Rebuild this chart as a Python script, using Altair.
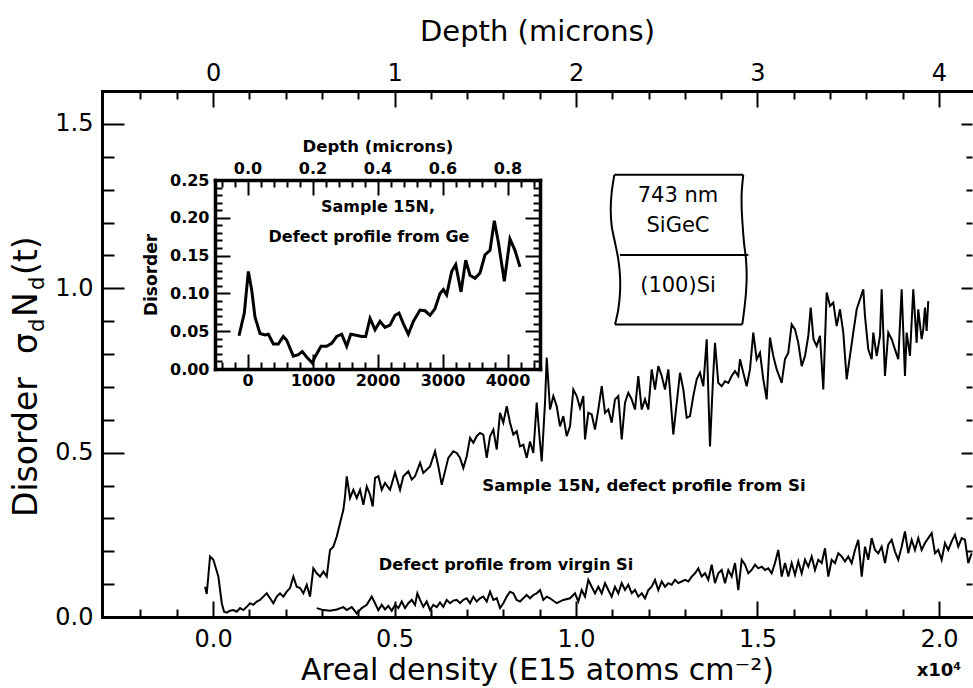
import altair as alt
import pandas as pd

# ---------------- data ----------------
# Sample 15N, defect profile from Si : (areal density [E15 atoms/cm2], disorder)
si_pts = [(-220,0.092),(-174,0.070),(-83,0.184),(8,0.174),(146,0.123),(240,0.042),(303,0.016),(377,0.013),
(468,0.019),(559,0.021),(653,0.016),(744,0.027),(835,0.021),(928,0.031),(1019,0.042),(1110,0.037),(1204,0.047),
(1295,0.052),(1386,0.062),(1479,0.072),(1570,0.057),(1661,0.042),(1755,0.062),(1846,0.072),(1937,0.062),
(2030,0.077),(2121,0.088),(2212,0.123),(2306,0.092),(2397,0.088),(2488,0.072),(2581,0.098),(2672,0.062),
(2763,0.148),(2857,0.133),(2948,0.123),(3039,0.138),(3132,0.123),(3223,0.204),(3314,0.214),(3408,0.245),
(3499,0.286),(3590,0.326),(3636,0.367),(3683,0.428),(3774,0.362),(3865,0.387),(3959,0.362),(4050,0.387),
(4141,0.341),(4234,0.397),(4325,0.372),(4399,0.336),(4463,0.423),(4554,0.428),(4647,0.387),(4738,0.408),
(4876,0.387),(5014,0.439),(5152,0.387),(5242,0.428),(5380,0.443),(5474,0.418),(5565,0.428),(5703,0.469),
(5793,0.438),(5978,0.458),(6116,0.504),(6207,0.458),(6300,0.402),(6391,0.443),(6482,0.484),(6620,0.504),
(6714,0.499),(6804,0.484),(6895,0.453),(6989,0.489),(7080,0.545),(7171,0.530),(7264,0.550),(7355,0.560),
(7446,0.555),(7540,0.484),(7631,0.550),(7722,0.570),(7815,0.509),(7906,0.621),(7997,0.591),(8091,0.641),
(8182,0.591),(8273,0.555),(8366,0.565),(8457,0.519),(8548,0.524),(8642,0.484),(8733,0.534),(8824,0.499),
(8917,0.652),(9008,0.530),(9055,0.473),(9146,0.652),(9193,0.789),(9284,0.631),(9375,0.672),(9468,0.641),
(9559,0.580),(9650,0.611),(9744,0.550),(9835,0.580),(9926,0.692),(10019,0.672),(10110,0.636),(10201,0.672),
(10248,0.540),(10339,0.621),(10432,0.616),(10523,0.570),(10614,0.631),(10708,0.702),(10799,0.621),
(10890,0.631),(10983,0.591),(11074,0.662),(11165,0.672),(11259,0.540),(11350,0.652),(11441,0.682),
(11534,0.662),(11625,0.631),(11716,0.733),(11810,0.631),(11901,0.662),(11992,0.631),(12085,0.753),
(12176,0.692),(12267,0.763),(12361,0.733),(12452,0.692),(12543,0.753),(12680,0.555),(12865,0.743),
(12956,0.692),(13049,0.606),(13140,0.611),(13231,0.672),(13325,0.723),(13416,0.743),(13507,0.702),
(13600,0.845),(13691,0.519),(13774,0.723),(13829,0.834),(13920,0.712),(14014,0.702),(14105,0.717),
(14196,0.712),(14289,0.733),(14380,0.748),(14471,0.733),(14518,0.784),(14609,0.743),(14702,0.702),
(14793,0.753),(14884,0.865),(14978,0.784),(15069,0.804),(15160,0.723),(15253,0.662),(15344,0.850),
(15435,0.794),(15529,0.753),(15666,0.712),(15757,0.784),(15848,0.804),(15942,0.890),(16033,0.875),
(16124,0.834),(16218,0.763),(16309,0.794),(16400,0.855),(16466,0.941),(16543,0.845),(16631,0.824),
(16722,0.855),(16813,0.692),(16906,0.987),(16997,0.946),(17088,0.956),(17182,0.885),(17273,0.936),
(17364,0.865),(17457,0.723),(17548,0.794),(17639,0.865),(17733,0.936),(17824,0.966),(17915,0.997),
(17961,0.916),(18052,0.814),(18146,0.784),(18190,0.865),(18284,0.794),(18375,0.855),(18421,0.997),
(18512,0.733),(18603,0.865),(18697,0.845),(18788,0.814),(18879,0.784),(18972,0.997),(19063,0.733),
(19110,0.865),(19201,0.794),(19292,0.997),(19385,0.834),(19429,0.936),(19523,0.845),(19567,0.875),
(19614,0.941),(19660,0.870),(19705,0.961)]

# Defect profile from virgin Si
virgin_pts = [(2857,0.027),(3039,0.021),(3223,0.019),(3408,0.023),(3590,0.030),(3683,0.021),(3821,0.030),
(3959,0.011),(4096,0.027),(4234,0.037),(4372,0.062),(4463,0.042),(4554,0.021),(4647,0.037),(4738,0.023),
(4829,0.034),(4923,0.019),(5014,0.037),(5105,0.027),(5198,0.047),(5289,0.027),(5380,0.042),(5474,0.052),
(5565,0.037),(5628,0.072),(5703,0.052),(5793,0.031),(5887,0.047),(5978,0.021),(6069,0.037),(6163,0.030),
(6253,0.044),(6344,0.031),(6438,0.052),(6529,0.042),(6620,0.050),(6714,0.052),(6804,0.042),(6895,0.052),
(6989,0.057),(7080,0.042),(7171,0.062),(7264,0.047),(7355,0.057),(7446,0.062),(7540,0.047),(7631,0.077),
(7722,0.052),(7815,0.057),(7906,0.027),(7997,0.042),(8091,0.062),(8182,0.077),(8273,0.072),(8366,0.052),
(8457,0.047),(8548,0.057),(8642,0.067),(8733,0.057),(8824,0.067),(8917,0.072),(9008,0.082),(9099,0.052),
(9193,0.062),(9284,0.057),(9468,0.042),(9650,0.052),(9835,0.057),(9972,0.072),(10063,0.047),(10157,0.082),
(10248,0.062),(10339,0.113),(10432,0.092),(10523,0.072),(10614,0.092),(10708,0.072),(10799,0.103),
(10890,0.082),(10983,0.062),(11074,0.092),(11165,0.072),(11259,0.103),(11350,0.082),(11441,0.098),
(11534,0.072),(11625,0.082),(11716,0.062),(11810,0.072),(11901,0.057),(11992,0.082),(12085,0.092),
(12176,0.113),(12267,0.082),(12361,0.108),(12452,0.092),(12543,0.103),(12636,0.098),(12727,0.113),
(12818,0.103),(12912,0.108),(13003,0.113),(13094,0.108),(13188,0.123),(13278,0.133),(13369,0.148),
(13463,0.123),(13554,0.133),(13645,0.113),(13738,0.159),(13829,0.103),(13920,0.133),(14014,0.143),
(14105,0.103),(14196,0.143),(14289,0.123),(14380,0.164),(14471,0.082),(14565,0.174),(14656,0.159),
(14747,0.133),(14840,0.143),(14931,0.159),(15022,0.148),(15116,0.153),(15207,0.143),(15298,0.148),
(15391,0.133),(15482,0.164),(15573,0.204),(15667,0.123),(15758,0.164),(15849,0.123),(15942,0.164),
(16033,0.128),(16124,0.169),(16218,0.133),(16309,0.174),(16400,0.153),(16493,0.184),(16584,0.143),
(16675,0.174),(16769,0.164),(16860,0.209),(16951,0.123),(17044,0.174),(17135,0.164),(17226,0.194),
(17320,0.184),(17411,0.169),(17502,0.184),(17595,0.164),(17686,0.204),(17777,0.235),(17871,0.123),
(17962,0.214),(18052,0.174),(18146,0.240),(18237,0.204),(18328,0.194),(18421,0.214),(18512,0.164),
(18603,0.220),(18697,0.235),(18788,0.199),(18879,0.174),(18972,0.214),(19063,0.260),(19154,0.194),
(19248,0.235),(19339,0.204),(19430,0.240),(19523,0.204),(19614,0.225),(19705,0.240),(19799,0.255),
(19890,0.194),(19981,0.204),(20074,0.174),(20165,0.225),(20256,0.204),(20350,0.230),(20441,0.250),
(20532,0.214),(20626,0.240),(20716,0.235),(20807,0.164),(20900,0.194)]

# Inset: Sample 15N, defect profile from Ge
ge_pts = [(-131,0.044),(-49,0.074),(13,0.129),(64,0.105),(115,0.069),(192,0.047),(269,0.045),(321,0.046),
(398,0.033),(474,0.033),(551,0.043),(603,0.038),(705,0.017),(782,0.019),(843,0.023),(910,0.016),(997,0.008),
(1038,0.016),(1131,0.030),(1218,0.030),(1295,0.034),(1372,0.043),(1449,0.046),(1526,0.030),(1588,0.046),
(1654,0.045),(1757,0.043),(1818,0.043),(1885,0.067),(1962,0.052),(2038,0.063),(2115,0.055),(2192,0.058),
(2269,0.071),(2331,0.074),(2397,0.060),(2474,0.046),(2551,0.063),(2654,0.078),(2731,0.077),(2808,0.071),
(2885,0.080),(2962,0.100),(3013,0.105),(3064,0.098),(3141,0.129),(3203,0.138),(3285,0.102),(3357,0.144),
(3423,0.124),(3500,0.120),(3577,0.127),(3654,0.151),(3731,0.157),(3797,0.196),(3859,0.168),(3951,0.116),
(4038,0.172),(4115,0.157),(4192,0.135)]

# axis tick values
main_x_major = [0, 5000, 10000, 15000, 20000]
main_x_ticks = list(range(-2000, 21000, 1000))
main_y_major = [0.0, 0.5, 1.0, 1.5]
main_y_ticks = [round(0.1 * i, 1) for i in range(1, 16)]
inset_x_major = [0, 1000, 2000, 3000, 4000]
inset_x_ticks = list(range(-400, 4600, 200))
inset_y_major = [0.0, 0.05, 0.10, 0.15, 0.20, 0.25]
inset_y_ticks = [round(0.01 * i, 2) for i in range(1, 25)]

# layer-stack sketch (main-plot data units)
box_left = [(11055,1.345),(10983,1.292),(10956,1.241),(10983,1.190),(11074,1.139),(11165,1.088),
            (11212,1.038),(11212,0.987),(11165,0.936),(11074,0.890)]
box_right = [(14609,1.345),(14565,1.292),(14565,1.241),(14592,1.190),(14628,1.139),(14683,1.088),
             (14702,1.038),(14683,0.987),(14636,0.936),(14581,0.890)]
box_top = [(11055,1.345),(14609,1.345)]
box_bottom = [(11074,0.890),(14581,0.890)]
box_divider = [(11212,1.101),(14747,1.101)]

# ---------------- layout ----------------
W, H = 870, 526
IL, IR, IT, IB = 113, 438, 89, 278
FONT = "DejaVu Sans"

xs = alt.Scale(domain=[-3060, 20910], nice=False, zero=False)
ys = alt.Scale(domain=[0, 1.6], nice=False, zero=False)
ixs = alt.Scale(domain=[-500, 4500], range=[IL, IR], nice=False, zero=False)
iys = alt.Scale(domain=[0, 0.25], range=[IB, IT], nice=False, zero=False)

MAJ_X = "datum.value % 5000 == 0"
MAJ_Y = "abs(datum.value*2 - round(datum.value*2)) < 1e-6"
IMAJ_X = "datum.value % 1000 == 0"
IMAJ_Y = "abs(datum.value*20 - round(datum.value*20)) < 1e-6"


def tick_axis(orient, offset, values, test, major, minor, width=2, domain=False, dwidth=3):
    kw = dict(orient=orient, offset=offset, values=values, labels=False, domain=domain,
              grid=False, title=None, tickColor="black", tickWidth=width,
              tickSize={"condition": {"test": test, "value": major}, "value": minor})
    if domain:
        kw.update(domainWidth=dwidth, domainColor="black", domainCap="square")
    return alt.Axis(**kw)


ax_xb = alt.Axis(orient="bottom", values=main_x_major, labelExpr="format(datum.value/10000, '.1f')",
                 ticks=False, domainWidth=3, domainCap="square", labelFontSize=24, labelPadding=10,
                 title="Areal density (E15 atoms cm⁻²)", titleFontSize=30, titleFontWeight="normal",
                 titleY=62, titleBaseline="alphabetic", grid=False)
ax_xt = alt.Axis(orient="top", values=main_x_major, labelExpr="format(datum.value/5000, 'd')",
                 ticks=False, domainWidth=3, domainCap="square", labelFontSize=24, labelPadding=6,
                 title="Depth (microns)", titleFontSize=29, titleFontWeight="normal",
                 titleY=-51, titleBaseline="alphabetic", grid=False)
ax_yl = alt.Axis(orient="left", values=main_y_major, format=".1f", ticks=False, domainWidth=3,
                 domainCap="square", labelFontSize=24, labelPadding=9, title=None, grid=False)


def MX(axis):
    return alt.X("x:Q", scale=xs, axis=axis)


def MY(axis):
    return alt.Y("y:Q", scale=ys, axis=axis)


si_df = pd.DataFrame(si_pts, columns=["x", "y"])
vir_df = pd.DataFrame(virgin_pts, columns=["x", "y"])

rows = []
for name, pts in [("left", box_left), ("right", box_right), ("top", box_top),
                  ("bottom", box_bottom), ("div", box_divider)]:
    for i, (bx, by) in enumerate(pts):
        rows.append({"side": name, "o": i, "x": bx, "y": by})
box_df = pd.DataFrame(rows)

line_si = alt.Chart(si_df).mark_line(color="black", strokeWidth=2).encode(x=MX(ax_xb), y=MY(ax_yl))
line_vir = alt.Chart(vir_df).mark_line(color="black", strokeWidth=2).encode(
    x=MX(ax_xt), y=MY(tick_axis("right", -W, main_y_ticks, MAJ_Y, 22, 12)))
ghost1 = alt.Chart(si_df).mark_point(opacity=0).encode(
    x=MX(tick_axis("top", -H, main_x_ticks, MAJ_X, 16, 8)),
    y=MY(tick_axis("left", -W, main_y_ticks, MAJ_Y, 11, 6)))
ghost2 = alt.Chart(si_df).mark_point(opacity=0).encode(
    x=MX(tick_axis("bottom", -H, main_x_ticks, MAJ_X, 16, 8)), y=MY(None))

box = alt.Chart(box_df).mark_line(color="black", strokeWidth=2, interpolate="catmull-rom").encode(
    x=MX(None), y=MY(None), detail="side:N", order="o:Q")


def label_at(text, x, y, size, weight="normal"):
    return alt.Chart(pd.DataFrame({"label": [text]})).mark_text(
        font=FONT, fontSize=size, fontWeight=weight, color="black", align="center", baseline="middle"
    ).encode(x=alt.X(datum=x, axis=None), y=alt.Y(datum=y, axis=None), text="label:N")


ann = [
    label_at("Sample 15N, defect profile from Si", 11873, 0.399, 16.6, "bold"),
    label_at("Defect profile from virgin Si", 8072, 0.159, 16.2, "bold"),
    label_at("743 nm", 12810, 1.280, 21),
    label_at("SiGeC", 12810, 1.189, 21),
    label_at("(100)Si", 12810, 1.006, 21),
]

x10 = alt.Chart(pd.DataFrame({"label": ["x10⁴"]})).mark_text(
    font=FONT, fontSize=18, fontWeight="bold", color="black", align="center", baseline="middle"
).encode(x=alt.X(datum=20000, axis=None), y=alt.value(580), text="label:N")

ytitle = []
for txt, px, py, fs in [("Disorder", -65, 426, 33), ("σ", -65, 263, 33), ("d", -58, 241, 21),
                        ("N", -65, 226, 33), ("d", -58, 199, 21), ("(t)", -65, 184, 33)]:
    ytitle.append(alt.Chart(pd.DataFrame({"label": [txt]})).mark_text(
        font=FONT, fontSize=fs, color="black", angle=270, align="left", baseline="alphabetic"
    ).encode(x=alt.value(px), y=alt.value(py), text="label:N"))

main = alt.layer(line_si, line_vir, ghost1, ghost2, box, *ann, x10, *ytitle).resolve_axis(
    x="independent", y="independent")

# ---------------- inset ----------------
ge_df = pd.DataFrame(ge_pts, columns=["gx", "gy"])


def IX(axis):
    return alt.X("gx:Q", scale=ixs, axis=axis)


def IY(axis):
    return alt.Y("gy:Q", scale=iys, axis=axis)


ins_xb = alt.Axis(orient="bottom", offset=-(H - IB), values=inset_x_major, format="d", ticks=False,
                  domainWidth=3.5, domainCap="square", labelFontSize=16, labelFontWeight="bold",
                  labelPadding=3, title=None, grid=False)
ins_xt = alt.Axis(orient="top", offset=-IT, values=inset_x_major, labelExpr="format(datum.value/5000, '.1f')",
                  ticks=False, domainWidth=3.5, domainCap="square", labelFontSize=16, labelFontWeight="bold",
                  labelPadding=4, title="Depth (microns)", titleFontSize=16.5, titleFontWeight="bold",
                  titleY=-29, titleBaseline="alphabetic", grid=False)
ins_yl = alt.Axis(orient="left", offset=-IL, values=inset_y_major, format=".2f", ticks=False,
                  domainWidth=3.5, domainCap="square", labelFontSize=16, labelFontWeight="bold",
                  labelPadding=6, title="Disorder", titleFontSize=17, titleFontWeight="bold",
                  titlePadding=9, grid=False)

ins_line = alt.Chart(ge_df).mark_line(color="black", strokeWidth=3).encode(x=IX(ins_xb), y=IY(ins_yl))
ins_g1 = alt.Chart(ge_df).mark_point(opacity=0).encode(
    x=IX(ins_xt), y=IY(tick_axis("right", -(W - IL), inset_y_ticks, IMAJ_Y, 15, 7)))
ins_g2 = alt.Chart(ge_df).mark_point(opacity=0).encode(
    x=IX(tick_axis("top", -IB, inset_x_ticks, IMAJ_X, 15, 7)),
    y=IY(tick_axis("left", -IR, inset_y_ticks, IMAJ_Y, 15, 7, domain=True, dwidth=3.5)))
ins_g3 = alt.Chart(ge_df).mark_point(opacity=0).encode(
    x=IX(tick_axis("bottom", -(H - IT), inset_x_ticks, IMAJ_X, 15, 7)), y=IY(None))

ins_t1 = label_at("Sample 15N,", 2008, 0.214, 16, "bold")
ins_t2 = label_at("Defect profile from Ge", 1869, 0.175, 16, "bold")

inset = alt.layer(ins_line, ins_g1, ins_g2, ins_g3, ins_t1, ins_t2).resolve_axis(
    x="independent", y="independent")

chart = alt.layer(main, inset).resolve_scale(x="independent", y="independent").properties(
    width=W, height=H,
    autosize=alt.AutoSizeParams(type="none"),
    padding={"left": 102, "top": 91, "right": 1, "bottom": 71},
).configure_view(stroke=None).configure_axis(
    labelFont=FONT, titleFont=FONT, labelColor="black", titleColor="black",
    domainColor="black", tickColor="black", labelFlush=False, labelOverlap=False, grid=False
)

chart.save("out.html", embed_options={"renderer": "svg", "actions": False})
